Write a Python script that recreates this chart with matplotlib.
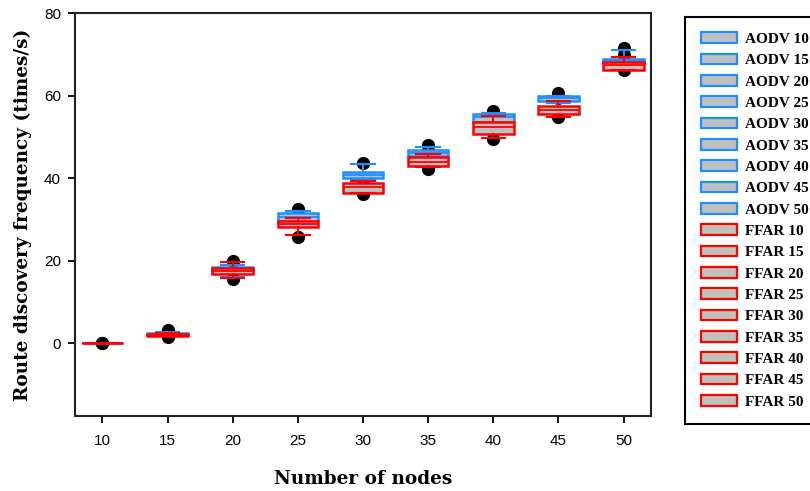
import matplotlib
matplotlib.use("Agg")
import matplotlib.pyplot as plt
from matplotlib.patches import Patch

# Number of nodes in the network
nodes = [10, 15, 20, 25, 30, 35, 40, 45, 50]

# AODV route discovery frequency (times/s): box statistics per node count
aodv_whislo = [0.0, 1.9, 16.0, 28.6, 39.5, 45.0, 53.0, 58.3, 68.0]
aodv_q1     = [0.0, 2.1, 17.2, 29.6, 40.0, 45.3, 53.6, 58.7, 68.2]
aodv_med    = [0.0, 2.3, 17.8, 30.6, 40.7, 46.0, 54.7, 59.4, 68.5]
aodv_q3     = [0.0, 2.5, 18.5, 31.4, 41.4, 46.7, 55.4, 60.0, 68.8]
aodv_whishi = [0.0, 2.7, 18.9, 32.0, 43.5, 47.4, 55.8, 60.0, 71.0]
aodv_fliers = [[0.0], [3.1], [], [32.6], [43.7, 39.7], [48.0], [56.2], [60.7, 59.3], [71.4]]

# FFAR route discovery frequency (times/s)
ffar_whislo = [0.0, 1.6, 15.7, 26.3, 36.4, 42.6, 49.8, 54.9, 66.3]
ffar_q1     = [0.0, 1.8, 16.7, 28.2, 36.4, 42.8, 50.7, 55.6, 66.3]
ffar_med    = [0.0, 2.0, 17.5, 28.8, 37.7, 44.0, 52.3, 56.5, 67.3]
ffar_q3     = [0.0, 2.3, 18.3, 29.5, 38.8, 45.0, 53.6, 57.4, 68.2]
ffar_whishi = [0.0, 2.5, 19.6, 30.2, 39.3, 45.8, 55.0, 58.7, 69.4]
ffar_fliers = [[0.0], [1.5], [19.8, 15.4], [25.8], [36.1], [42.1, 46.6], [49.5], [54.7], [66.2, 69.8]]

AODV_COLOR = "#1E8FFF"
FFAR_COLOR = "#FF0000"
FILL = "#C0C0C0"

label_font = dict(family=["DejaVu Serif"], weight="bold", fontsize=13.3)


def make_stats(lo, q1, med, q3, hi, fl):
    return [dict(whislo=a, q1=b, med=c, q3=d, whishi=e, fliers=f)
            for a, b, c, d, e, f in zip(lo, q1, med, q3, hi, fl)]


fig = plt.figure(figsize=(8.1, 4.91), dpi=100)
ax = fig.add_axes([0.0926, 0.1527, 0.7111, 0.8208])

for stats, color, z in [
    (make_stats(aodv_whislo, aodv_q1, aodv_med, aodv_q3, aodv_whishi, aodv_fliers), AODV_COLOR, 3),
    (make_stats(ffar_whislo, ffar_q1, ffar_med, ffar_q3, ffar_whishi, ffar_fliers), FFAR_COLOR, 4),
]:
    ax.bxp(
        stats,
        positions=nodes,
        widths=3.1,
        patch_artist=True,
        manage_ticks=False,
        boxprops=dict(facecolor=FILL, edgecolor=color, linewidth=1.8),
        medianprops=dict(color=color, linewidth=1.3),
        whiskerprops=dict(color=color, linewidth=1.5),
        capprops=dict(color=color, linewidth=1.5),
        capwidths=1.8,
        flierprops=dict(marker="o", markerfacecolor="black", markeredgecolor="black",
                        markersize=8.5, zorder=2),
        zorder=z,
    )

ax.set_xlim(7.9, 52.1)
ax.set_ylim(-17.7, 80)
ax.set_xticks(nodes)
ax.set_yticks([0, 20, 40, 60, 80])
ax.tick_params(direction="out", length=5, width=1.3, labelsize=11)
ax.tick_params(axis="x", pad=8)
ax.tick_params(axis="y", pad=5)
for lab in ax.get_xticklabels() + ax.get_yticklabels():
    lab.set_family(["Liberation Sans", "DejaVu Sans"])
for sp in ax.spines.values():
    sp.set_linewidth(1.5)
    sp.set_color("#222222")

ax.set_xlabel("Number of nodes", labelpad=16, **label_font)
ax.set_ylabel("Route discovery frequency (times/s)", labelpad=9, **label_font)

handles = [Patch(facecolor=FILL, edgecolor=AODV_COLOR, linewidth=1.6) for _ in nodes] + \
          [Patch(facecolor=FILL, edgecolor=FFAR_COLOR, linewidth=1.6) for _ in nodes]
labels = [f"AODV {n}" for n in nodes] + [f"FFAR {n}" for n in nodes]
leg = fig.legend(handles, labels, loc="upper left", bbox_to_anchor=(0.846, 0.965),
                 frameon=True, fancybox=False, edgecolor="black", framealpha=1,
                 handlelength=2.4, handleheight=0.7, labelspacing=0.5,
                 borderpad=1.0, handletextpad=0.5, borderaxespad=0.0,
                 prop=dict(family=["Liberation Serif", "DejaVu Serif"], weight="bold", size=11))
leg.get_frame().set_linewidth(1.5)

fig.savefig("out.png", dpi=100)
